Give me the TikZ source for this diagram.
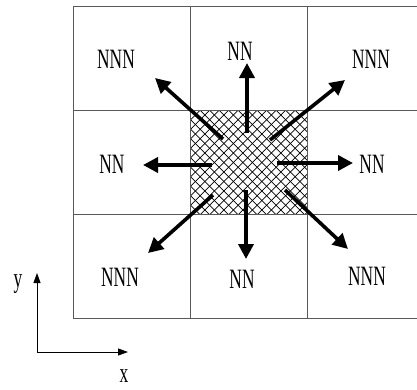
\documentclass[tikz,border=0pt]{standalone}
\usepackage{fontspec}
\setmainfont{Liberation Serif}[FakeStretch=0.62]
\usepackage{tikz}
\usetikzlibrary{arrows.meta}

\tikzset{
  cell/.style={draw=black!65, line width=0.9pt},
  hatch/.style={black, line width=0.65pt},
  hop/.style={line width=3.6pt, -{Triangle[length=15pt,width=15pt]}},
  axis/.style={line width=0.9pt, -{Triangle[length=10pt,width=7pt]}},
  lbl/.style={font=\fontsize{28}{28}\selectfont, inner sep=0pt},
}

\begin{document}
\begin{tikzpicture}[x=1pt,y=-1pt]
\useasboundingbox (0,0) rectangle (417,389);
% hatched centre cell
\begin{scope}
\clip (190.6,110.2) rectangle (307.9,214.4);
\foreach \k in {-114,-104.5,...,240} {
  \draw[hatch] ({190.6+\k},110.2) -- ++(110,110);
  \draw[hatch] ({190.6+\k},110.2) -- ++(-110,110);
}
\end{scope}
% lattice
\foreach \i in {0,...,3}
  \draw[cell] ({73.3+117.3*\i},6) -- ({73.3+117.3*\i},318.6);
\foreach \j in {0,...,3}
  \draw[cell] (73.3,{6+104.2*\j}) -- (426,{6+104.2*\j});
% neighbour labels
\node[lbl] (nw) at (116,59) {NNN};
\node[lbl] (n)  at (240,51) {NN};
\node[lbl] (ne) at (371,59) {NNN};
\node[lbl] (w)  at (112,164) {NN};
\node[lbl] (e)  at (372,164) {NN};
\node[lbl] (sw) at (120,277) {NNN};
\node[lbl] (s)  at (242,279) {NN};
\node[lbl] (se) at (367,276) {NNN};
% hops
\foreach \d/\sx/\sy/\ex/\ey in {u/247/133/247/63, d/246/190/246/259,
    l/212/165/143/165, r/277/163/353/163, ul/223/139/155/78,
    ur/270/140/345/80, dl/213/195/148/253, dr/285/190/348/249} {
  \coordinate (s\d) at (\sx,\sy);
  \coordinate (e\d) at (\ex,\ey);
  \draw[hop] (s\d) -- (e\d);
}
% axes
\coordinate (o) at (37,352);
\coordinate (ya) at (37,273);
\coordinate (xa) at (128,352);
\draw[axis] (o) -- (ya);
\draw[axis] (o) -- (xa);
\node[lbl] (ylbl) at (18,284) {y};
\node[lbl] (xlbl) at (124,376) {x};
\end{tikzpicture}
\end{document}
